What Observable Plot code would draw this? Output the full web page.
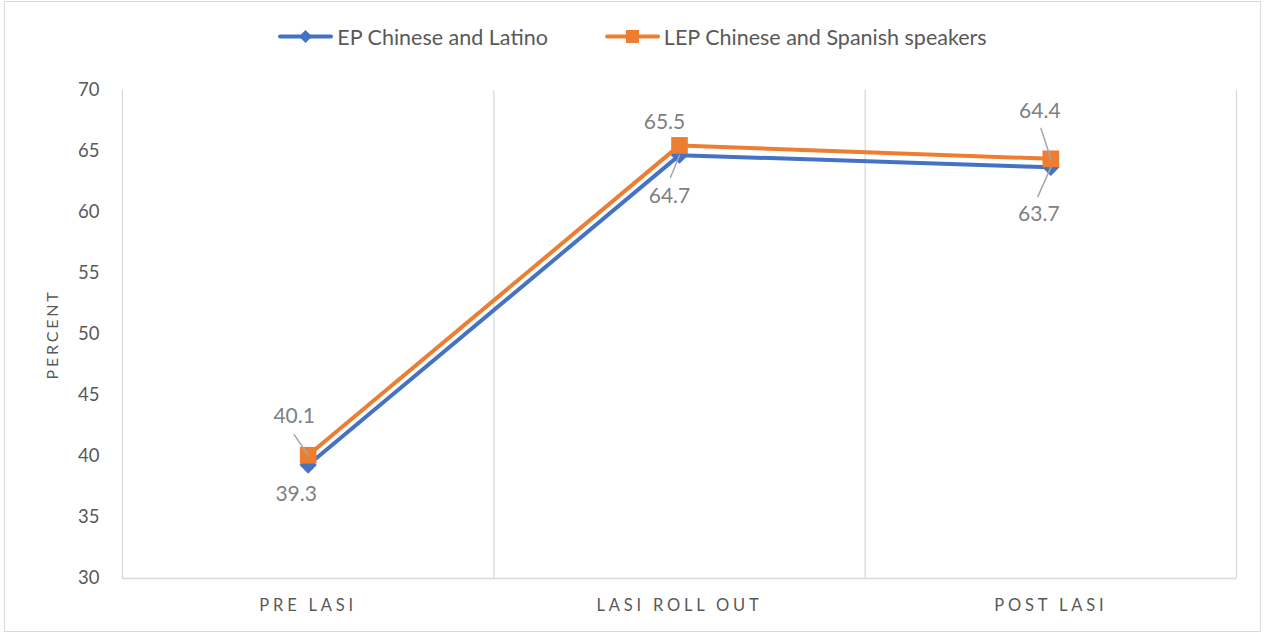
<!DOCTYPE html>
<html><head><meta charset="utf-8">
<script src="https://cdn.jsdelivr.net/npm/d3@7"></script>
<script src="https://cdn.jsdelivr.net/npm/@observablehq/plot@0.6"></script>
<style>
body{margin:0;background:#fff;font-family:Lato,"Open Sans",sans-serif;}
#frame{position:relative;width:1265px;height:635px;overflow:hidden;}
#border{position:absolute;left:4px;top:1px;width:1257px;height:631px;border:1px solid #d9d9d9;box-sizing:border-box;pointer-events:none;}
#legend{position:absolute;left:0;top:0;width:1265px;height:73px;display:flex;align-items:center;justify-content:center;gap:57px;font-size:21.5px;color:#595959;padding-left:0px;box-sizing:border-box;}
.item{display:flex;align-items:center;gap:4px;}
#chart{position:absolute;left:0;top:70px;}
.xax text{letter-spacing:3.8px;}
.ylab{letter-spacing:2.8px;}
</style></head>
<body>
<div id="frame"><div id="legend"></div><div id="chart"></div><div id="border"></div></div>
<script>
// ---- data ----
const categories = ["PRE LASI", "LASI ROLL OUT", "POST LASI"];
const seriesNames = ["EP Chinese and Latino", "LEP Chinese and Spanish speakers"];
const epValues = [39.3, 64.7, 63.7];
const lepValues = [40.1, 65.5, 64.4];
const yTicks = [30, 35, 40, 45, 50, 55, 60, 65, 70];

// ---- styles ----
const colors = ["#4472C4", "#ED7D31"];
const symbols = ["diamond2", "square"];
const symbolR = [7.8, 9.4];
// label placement (pixels relative to point): [dx, dy, leaderLength, leaderRotate]
const labelStyle = [
  [[-12, 29, 0, 0], [-10, 41, 24, 202], [-12, 47, 32, 204]],
  [[-14, -39, 25, -34], [-15, -23, 0, 0], [-11, -48, 32, -18]]
];

const seriesValues = [epValues, lepValues];
const rows = seriesValues.flatMap((vals, s) => vals.map((v, i) => ({series: seriesNames[s], s, i, x: i + 0.5, cat: categories[i], value: v})));

// legend
const legend = document.getElementById("legend");
seriesNames.forEach((name, s) => {
  const item = document.createElement("div");
  item.className = "item";
  const sym = s === 0
    ? `<path d="M27.5,3 L34,9.5 L27.5,16 L21,9.5Z" fill="${colors[s]}"/>`
    : `<rect x="21" y="3" width="13" height="13" fill="${colors[s]}"/>`;
  item.innerHTML = `<svg width="55" height="19"><line x1="2" x2="53" y1="9.5" y2="9.5" stroke="${colors[s]}" stroke-width="4" stroke-linecap="round"/>${sym}</svg><span>${name}</span>`;
  legend.appendChild(item);
});

const marks = [
  Plot.ruleX(d3.range(categories.length + 1), {stroke: "#d9d9d9", strokeWidth: 1.3}),
  Plot.ruleY([30], {stroke: "#d9d9d9", strokeWidth: 1.5}),
  Plot.axisY({ticks: yTicks, tickSize: 0, tickPadding: 23, fontSize: 18.5, fill: "#595959", label: null}),
  Plot.axisX({ticks: categories.map((c, i) => i + 0.5), tickFormat: d => categories[Math.floor(d)], tickSize: 0, tickPadding: 21, fontSize: 16.5, fill: "#595959", label: null, className: "xax"}),
  Plot.text(["PERCENT"], {frameAnchor: "left", textAnchor: "middle", rotate: -90, dx: -70, dy: 0, fontSize: 16, fill: "#595959", className: "ylab"})
];
seriesNames.forEach((name, s) => {
  const d = rows.filter(r => r.s === s);
  marks.push(Plot.line(d, {x: "x", y: "value", stroke: colors[s], strokeWidth: 4}));
});
seriesNames.forEach((name, s) => {
  const d = rows.filter(r => r.s === s);
  marks.push(Plot.dot(d, {x: "x", y: "value", symbol: () => symbols[s], r: symbolR[s], fill: colors[s], stroke: "none"}));
});
rows.forEach(r => {
  const [dx, dy, len, rot] = labelStyle[r.s][r.i];
  if (len > 0) marks.push(Plot.vector([r], {x: "x", y: "value", length: len, rotate: rot, anchor: "start", r: 0, stroke: "#a6a6a6", strokeWidth: 1.5}));
  marks.push(Plot.text([r], {x: "x", y: "value", text: d => d.value.toFixed(1), dx, dy, fontSize: 21, fill: "#808080"}));
});

const plot = Plot.plot({
  width: 1265, height: 565,
  marginLeft: 122, marginRight: 29, marginTop: 20, marginBottom: 57,
  style: {fontFamily: "Lato, 'Open Sans', sans-serif", background: "transparent"},
  x: {type: "linear", domain: [0, categories.length], axis: null},
  y: {domain: [30, 70], axis: null},
  marks
});
document.getElementById("chart").appendChild(plot);
</script>
</body></html>
